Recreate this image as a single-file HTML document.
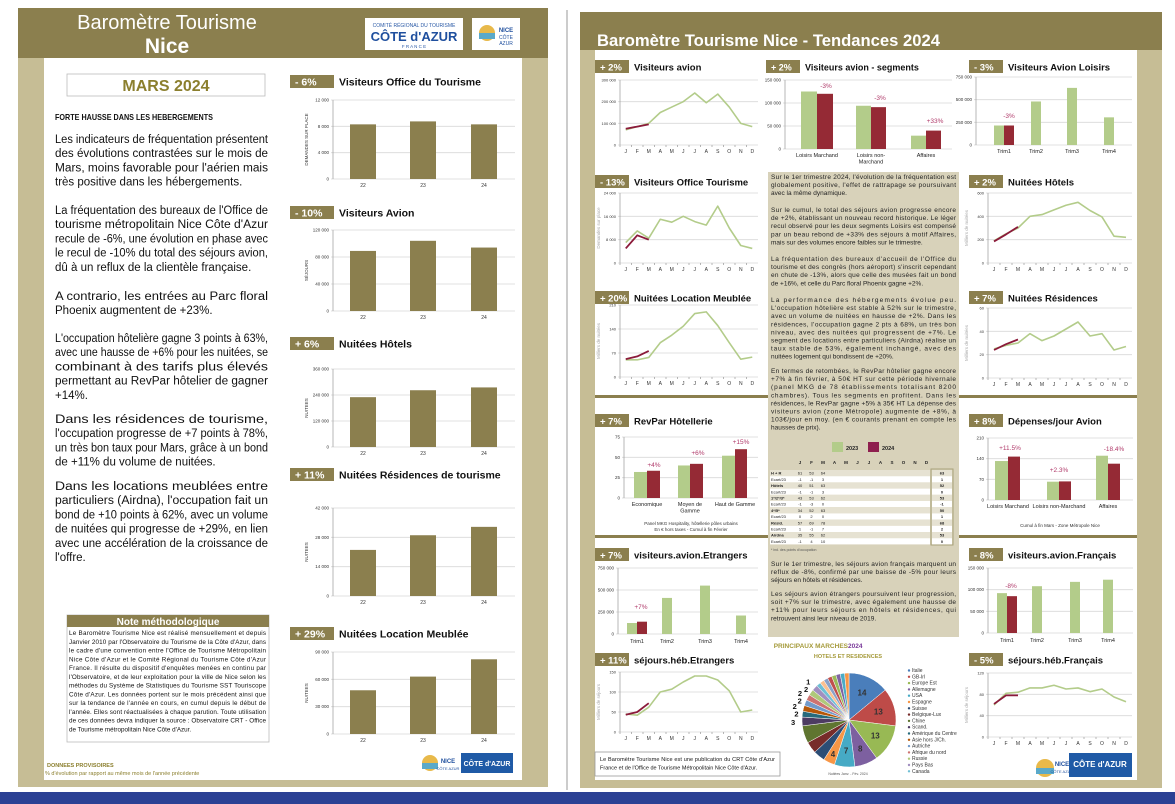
<!DOCTYPE html>
<html><head><meta charset="utf-8"><style>
html,body{margin:0;padding:0;background:#fff;}
svg{display:block;font-family:"Liberation Sans",sans-serif;}
</style></head><body>
<svg id="s" width="1175" height="804" viewBox="0 0 1175 804" xmlns="http://www.w3.org/2000/svg"></svg>
<script>
const S=document.getElementById('s');const NS='http://www.w3.org/2000/svg';
function E(t,a,txt){const e=document.createElementNS(NS,t);for(const k in a)e.setAttribute(k,a[k]);if(txt!==undefined)e.textContent=txt;S.appendChild(e);return e;}
function R(x,y,w,h,f,st){const a={x,y,width:w,height:h,fill:f};if(st){a.stroke=st;a['stroke-width']=0.8;}return E('rect',a);}
function T(x,y,s,fs,f,anc,w,len){const a={x,y,'font-size':fs,fill:f||'#222'};if(anc)a['text-anchor']=anc;if(w)a['font-weight']=w;if(len){a.textLength=len;a.lengthAdjust='spacingAndGlyphs';}return E('text',a,s);}
function Ln(x1,y1,x2,y2,c,w){return E('line',{x1,y1,x2,y2,stroke:c,'stroke-width':w||0.7});}
function PL(pts,c,w){return E('polyline',{points:pts.map(p=>p.join(',')).join(' '),fill:'none',stroke:c,'stroke-width':w,'stroke-linejoin':'round'});}
function para(x,y,w,lines,fs,lh,col,adj){lines.forEach((l,i)=>{const last=(i==lines.length-1);const a={x,y:y+i*lh,'font-size':fs,fill:col||'#111'};if(!last){a.textLength=w;a.lengthAdjust=adj||'spacing';}E('text',a,l);});}
const OL='#8b7f4e',KH='#c6bd95',GR='#b3cc8a',MR='#952a35',ML='#8b1a3a',GD='#d9d9d9';

R(0,792,1175,12,'#2b4194');
Ln(567,10,567,790,'#999',1);
R(18,8,530,779,KH);R(18,8,530,50,OL);R(44,58,478,722,'#fff');
R(580,12,582,776,KH);R(580,12,582,38,OL);R(595,50,542,730,'#fff');
T(167,29,'Baromètre Tourisme',20,'#fff','middle');
T(167,53,'Nice',21,'#fff','middle','bold');
R(365,18,98,32,'#fff');T(414,27,'COMITÉ RÉGIONAL DU TOURISME',5,'#2b5aa6','middle');T(414,41,"CÔTE d'AZUR",13,'#1f4f9e','middle','bold');T(414,48,'F R A N C E',4.5,'#2b5aa6','middle');
R(472,18,48,32,'#fff');E('circle',{cx:487,cy:33,r:8,fill:'#e8b94a'});R(479,33,16,6,'#5aa9c9');T(506,32,'NICE',6,'#1f4f9e','middle','bold');T(506,39,'CÔTE',5,'#1f4f9e','middle');T(506,45,'AZUR',5,'#1f4f9e','middle');
R(67,74,198,22,'#fff','#bbb');T(166,91,'MARS 2024',16,'#8b7f2e','middle','bold');
T(55,120,'FORTE HAUSSE DANS LES HEBERGEMENTS',8.5,'#111',null,'bold',158);
const lh=14.2,A='spacingAndGlyphs';
para(55,143,213,["Les indicateurs de fréquentation présentent","des évolutions contrastées sur le mois de","Mars, moins favorable pour l'aérien mais","très positive dans les hébergements."],11.5,lh,null,A);
para(55,214,213,["La fréquentation des bureaux de l'Office de","tourisme métropolitain Nice Côte d'Azur","recule de -6%, une évolution en phase avec","le recul de -10% du total des séjours avion,","dû à un reflux de la clientèle française."],11.5,lh,null,A);
para(55,300,213,["A contrario, les entrées au Parc floral","Phoenix augmentent de +23%."],11.5,lh,null,A);
para(55,342,213,["L'occupation hôtelière gagne 3 points à 63%,","avec une hausse de +6% pour les nuitées, se","combinant à des tarifs plus élevés","permettant au RevPar hôtelier de gagner","+14%."],11.5,lh,null,A);
para(55,423,213,["Dans les résidences de tourisme,","l'occupation progresse de +7 points à 78%,","un très bon taux pour Mars, grâce à un bond","de +11% du volume de nuitées."],11.5,lh,null,A);
para(55,490,213,["Dans les locations meublées entre","particuliers (Airdna), l'occupation fait un","bond de +10 points à 62%, avec un volume","de nuitées qui progresse de +29%, en lien","avec une accélération de la croissance de","l'offre."],11.5,lh,null,A);
R(67,615,202,127,'#fff','#bbb');R(67,615,202,12,OL);T(168,625,'Note méthodologique',10,'#fff','middle','bold');
para(69,635,197,["Le Baromètre Tourisme Nice est réalisé mensuellement  et depuis","Janvier 2010 par l'Observatoire du Tourisme de la Côte d'Azur, dans","le cadre d'une convention entre l'Office de Tourisme Métropolitain","Nice Côte d'Azur et le Comité Régional du Tourisme Côte d'Azur","France. Il résulte du dispositif d'enquêtes menées en continu par","l'Observatoire, et de leur exploitation pour la ville de Nice selon les","méthodes du Système de Statistiques du Tourisme SST Touriscope","Côte d'Azur. Les données portent sur le mois précédent ainsi que","sur la tendance de l'année en cours, en cumul depuis le début de","l'année. Elles sont réactualisées à chaque parution. Toute utilisation","de ces données devra indiquer la source : Observatoire CRT - Office","de Tourisme métropolitain Nice Côte d'Azur."],6.3,8.75);
T(47,767,'DONNEES PROVISOIRES',5.5,'#8b7f2e',null,'bold');
T(45,775,"% d'évolution par rapport au même mois de l'année précédente",5.5,'#8b7f2e');
E('circle',{cx:430,cy:763,r:8,fill:'#e8b94a'});R(422,763,16,6,'#5aa9c9');T(448,763,'NICE',6,'#1f4f9e','middle','bold');T(448,770,'CÔTE AZUR',4,'#1f4f9e','middle');
R(461,753,52,20,'#1f5aa6');T(487,766,"CÔTE d'AZUR",7,'#fff','middle','bold');

function badge(x,y,w,txt,title,fs){R(x,y,w,13,OL);T(x+5,y+10.5,txt,fs||10.5,'#fff',null,'bold');T(x+w+5,y+10.5,title,fs||10.5,'#111',null,'bold');}
function fm(t){return t.toLocaleString('fr-FR').replace(/\u202f|\u00a0/g,' ');}
function lbar(top,base,max,ticks,vals,ylab){const x0=333,x1=515;ticks.forEach(t=>{const y=base-(t/max)*(base-top);Ln(x0-2,y,x1,y,GD,0.8);T(x0-4,y+1.5,fm(t),4.5,'#333','end');});Ln(x0,top,x0,base,'#999');const xs=[350,410,471];vals.forEach((v,i)=>{const h=(v/max)*(base-top);R(xs[i],base-h,26,h,OL);T(xs[i]+13,base+8,['22','23','24'][i],5,'#333','middle');});E('text',{x:0,y:0,'font-size':4.5,fill:'#333','text-anchor':'middle',transform:`translate(${x0-25},${(top+base)/2}) rotate(-90)`},ylab);}
badge(290,75,44,'-  6%','Visiteurs Office du Tourisme');
lbar(100,179,12000,[0,4000,8000,12000],[8300,8750,8300],'DEMANDES SUR PLACE');
badge(290,206,44,'-  10%','Visiteurs Avion');
lbar(230,311,120000,[0,40000,80000,120000],[89000,104000,94000],'SÉJOURS');
badge(290,337,44,'+  6%','Nuitées Hôtels');
lbar(369,447,360000,[0,120000,240000,360000],[230000,262000,275000],'NUITEES');
badge(290,468,44,'+  11%','Nuitées Résidences de tourisme');
lbar(508,596,42000,[0,14000,28000,42000],[22000,29000,33000],'NUITEES');
badge(290,627,44,'+  29%','Nuitées Location Meublée');
lbar(652,734,90000,[0,30000,60000,90000],[48000,63000,82000],'NUITEES');

T(597,46,'Baromètre Tourisme Nice - Tendances 2024',17,'#fff',null,'bold',343);
R(768,172,191,465,'#d8d2ba');
R(595,395,173,3,OL);R(959,395,178,3,OL);R(595,535,173,3,OL);R(959,535,178,3,OL);
const M=['J','F','M','A','M','J','J','A','S','O','N','D'];
function lchart(x0,x1,top,base,max,ticks,d23,d24,ylab){ticks.forEach(t=>{const y=base-(t/max)*(base-top);Ln(x0-2,y,x1,y,GD,0.8);T(x0-4,y+1.5,fm(t),4,'#333','end');});Ln(x0,top,x0,base,'#999');const dx=(x1-x0)/12;const px=i=>x0+dx*(i+0.5);M.forEach((m,i)=>{Ln(x0+dx*i,base,x0+dx*i,base+2,'#999');T(px(i),base+8,m,5,'#333','middle');});const py=v=>base-(v/max)*(base-top);PL(d23.map((v,i)=>[px(i),py(v)]),GR,1.6);PL(d24.map((v,i)=>[px(i),py(v)]),ML,1.8);if(ylab)E('text',{x:0,y:0,'font-size':4.5,fill:'#aaa','text-anchor':'middle',transform:`translate(${x0-20},${(top+base)/2}) rotate(-90)`},ylab);}
function gbar(x0,x1,top,base,max,ticks,groups,cats,labels,cy){ticks.forEach(t=>{const y=base-(t/max)*(base-top);Ln(x0-2,y,x1,y,GD,0.8);T(x0-4,y+1.5,fm(t),4.5,'#333','end');});Ln(x0,top,x0,base,'#999');groups.forEach(g=>{const h=(g[2]/max)*(base-top);R(g[0],base-h,g[1],h,g[3]);});cats.forEach(c=>{c[2].split('|').forEach((s,j)=>T(c[0],(cy||base+8)+j*6.5,s,5.5,'#222','middle'));});labels.forEach(l=>T(l[0],l[1],l[2],6.5,'#b03a6a','middle'));}
badge(595,60,34,'+ 2%','Visiteurs avion',9.5);
lchart(620,758,80,145,300000,[0,100000,200000,300000],[70,85,100,150,175,200,240,195,235,175,100,85].map(v=>v*1000),[75,85,95].map(v=>v*1000));
badge(766,60,34,'+ 2%','Visiteurs avion - segments',9);
gbar(785,952,80,149,150000,[0,50000,100000,150000],[[801,16,125000,GR],[817,16,120000,MR],[856,15,94000,GR],[871,15,91000,MR],[911,15,29000,GR],[926,15,40000,MR]],[[817,0,'Loisirs Marchand'],[871,0,'Loisirs non-|Marchand'],[926,0,'Affaires']],[[826,88,'-3%'],[880,100,'-3%'],[935,123,'+33%']],157);
badge(969,60,34,'- 3%','Visiteurs Avion Loisirs',9.5);
gbar(976,1132,77,145,750000,[0,250000,500000,750000],[[994,10,215000,GR],[1004,10,215000,MR],[1031,10,480000,GR],[1067,10,630000,GR],[1104,10,305000,GR]],[[1004,0,'Trim1'],[1036,0,'Trim2'],[1072,0,'Trim3'],[1109,0,'Trim4']],[[1009,118,'-3%']],153);
badge(595,175,34,'- 13%','Visiteurs Office Tourisme',9.5);
lchart(620,758,193,263,24000,[0,8000,16000,24000],[7,11,8.5,15,14,16,14.2,13,19.5,12,6,5].map(v=>v*1000),[5,9.5,8].map(v=>v*1000),'Demandes sur place');
badge(969,175,34,'+ 2%','Nuitées Hôtels',9.5);
lchart(988,1132,193,263,600,[0,200,400,600],[190,250,300,400,415,455,495,520,450,395,230,220],[185,245,310],'Milliers de nuitées');
badge(595,291,34,'+ 20%','Nuitées Location Meublée',9.5);
lchart(620,758,305,377,210,[0,70,140,210],[50,50,57,100,122,148,185,190,150,100,52,58],[52,60,76],'Milliers de nuitées');
badge(969,291,34,'+ 7%','Nuitées Résidences',9.5);
lchart(988,1132,308,378,60,[0,20,40,60],[25,28,30,38,32,36,42,48,36,38,24,27],[24,29,33],'Milliers de nuitées');
badge(595,414,34,'+ 7%','RevPar Hôtellerie',9.5);
gbar(624,758,437,498,75,[0,25,50,75],[[634,13,32,GR],[647,13,33.5,MR],[678,12,40,GR],[690,13,42,MR],[722,13,52,GR],[735,12,60,MR]],[[647,0,'Economique'],[690,0,'Moyen de|Gamme'],[735,0,'Haut de Gamme']],[[654,467,'+4%'],[698,455,'+6%'],[741,444,'+15%']],506);
T(691,525,'Panel MKG Hospitality, hôtellerie pôles urbains',4.5,'#333','middle');T(691,531,'En € hors taxes - Cumul à fin Février',4.5,'#333','middle');
badge(969,414,34,'+ 8%','Dépenses/jour Avion',9.5);
gbar(988,1133,438,500,210,[0,70,140,210],[[995,13,132,GR],[1008,12,147,MR],[1047,12,62,GR],[1059,12,63,MR],[1096,12,150,GR],[1108,12,123,MR]],[[1008,0,'Loisirs Marchand'],[1059,0,'Loisirs non-Marchand'],[1108,0,'Affaires']],[[1010,450,'+11.5%'],[1059,472,'+2.3%'],[1114,451,'-18.4%']],508);
T(1060,527,'Cumul à fin Mars - Zone Métropole Nice',4.5,'#333','middle');
badge(595,548,34,'+ 7%','visiteurs.avion.Etrangers',9.5);
gbar(618,758,568,634,750000,[0,250000,500000,750000],[[627,10,125000,GR],[637,10,140000,MR],[662,10,410000,GR],[700,10,550000,GR],[736,10,210000,GR]],[[637,0,'Trim1'],[667,0,'Trim2'],[705,0,'Trim3'],[741,0,'Trim4']],[[641,609,'+7%']],643);
badge(969,548,34,'- 8%','visiteurs.avion.Français',9.5);
gbar(988,1133,568,633,150000,[0,50000,100000,150000],[[997,10,92000,GR],[1007,10,85000,MR],[1032,10,108000,GR],[1070,10,118000,GR],[1103,10,123000,GR]],[[1007,0,'Trim1'],[1037,0,'Trim2'],[1075,0,'Trim3'],[1108,0,'Trim4']],[[1011,588,'-8%']],642);
badge(595,653,34,'+ 11%','séjours.héb.Etrangers',9.5);
lchart(620,758,672,732,150,[0,50,100,150],[45,42,62,100,107,125,140,140,130,103,50,55],[43,50,72],'Milliers de séjours');
badge(969,653,34,'- 5%','séjours.héb.Français',9.5);
lchart(988,1132,673,737,120,[0,40,80,120],[60,82,84,92,92,97,90,92,85,90,75,66],[62,78,78],'Milliers de séjours');
R(595,752,185,24,'#fff','#999');para(600,761,175,["Le Baromètre Tourisme Nice est une publication du CRT Côte d'Azur","France et de l'Office de Tourisme Métropolitain Nice Côte d'Azur."],5.5,8.5);
E('circle',{cx:1045,cy:768,r:9,fill:'#e8b94a'});R(1036,768,18,6,'#5aa9c9');T(1062,766,'NICE',6,'#1f4f9e','middle','bold');T(1062,773,'CÔTE AZUR',4,'#1f4f9e','middle');
R(1069,753,63,24,'#1f5aa6');T(1100,767,"CÔTE d'AZUR",8,'#fff','middle','bold');

const mx=771,mw=185,mf=6.5,ml=8.1;
para(mx,179,mw,["Sur le 1er trimestre 2024, l'évolution de la fréquentation est","globalement positive, l'effet de rattrapage se poursuivant","avec la même dynamique."],mf,ml,'#222');
para(mx,212,mw,["Sur le cumul, le total des séjours avion progresse encore","de +2%, établissant un nouveau record historique. Le léger","recul observé pour les deux segments Loisirs est compensé","par un beau rebond de +33% des séjours à motif Affaires,","mais sur des volumes encore faibles sur le trimestre."],mf,ml,'#222');
para(mx,261,mw,["La fréquentation des bureaux d'accueil de l'Office du","tourisme et des congrès (hors aéroport) s'inscrit cependant","en chute de -13%, alors que celle des musées fait un bond","de +16%, et celle du Parc floral Phoenix gagne +2%."],mf,ml,'#222');
para(mx,302,mw,["La performance des hébergements évolue peu.","L'occupation hôtelière est stable à 52% sur le trimestre,","avec un volume de nuitées en hausse de +2%. Dans les","résidences, l'occupation gagne 2 pts à 68%, un très bon","niveau, avec des nuitées qui progressent de +7%. Le","segment des locations entre particuliers (Airdna) réalise un","taux stable de 53%, également inchangé, avec des","nuitées logement qui bondissent de +20%."],mf,ml,'#222');
para(mx,373,mw,["En termes de retombées, le RevPar hôtelier gagne encore","+7% à fin février, à 50€ HT sur cette période hivernale","(panel MKG de 78 établissements totalisant 8200","chambres). Tous les segments en profitent. Dans les","résidences, le RevPar gagne +5% à 35€ HT La dépense des","visiteurs avion (zone Métropole) augmente de +8%, à","103€/jour en moy. (en € courants prenant en compte les","hausses de prix)."],mf,ml,'#222');
para(mx,566,mw,["Sur le 1er trimestre, les séjours avion français marquent un","reflux de -8%, confirmé par une baisse de -5% pour leurs","séjours en hôtels et résidences."],mf,ml,'#222');
para(mx,596,mw,["Les séjours avion étrangers poursuivent leur progression,","soit +7% sur le trimestre, avec également une hausse de","+11% pour leurs séjours en hôtels et résidences, qui","retrouvent ainsi leur niveau de 2019."],mf,ml,'#222');
R(832,442,11,10,GR);T(846,450,'2023',5.5,'#222',null,'bold');R(868,442,11,10,'#8e1f4e');T(882,450,'2024',5.5,'#222',null,'bold');
M.forEach((m,i)=>T(800+i*11.5,464,m,4.5,'#222','middle','bold'));
const rl=['H + R','Ecart/23','Hôtels','Ecart/23','1*/2*/3*','Ecart/23','4*/5*','Ecart/23','Résid.','Ecart/23','Airdna','Ecart/23'];
const rv=[[61,53,64,63],[-1,-1,3,1],[40,51,63,52],[-1,-1,3,0],[43,53,62,53],[-1,-3,0,-1],[34,52,63,50],[0,2,0,1],[57,69,78,68],[1,-1,7,2],[35,55,62,53],[-1,4,10,0]];
rl.forEach((l,i)=>{const y=470+i*6.2;R(770,y,160,6.2,i%2?'#fff':'#e6e2d2');T(771,y+4.7,l,4,'#222',null,i%2?null:'bold');rv[i].slice(0,3).forEach((v,j)=>T(800+j*11.5,y+4.7,v,4,'#222','middle'));R(932,y,20,6.2,i%2?'#fff':'#e6e2d2');T(942,y+4.7,rv[i][3],4,'#222','middle','bold');});
E('rect',{x:931,y:469,width:22,height:76,fill:'none',stroke:'#a9a17a','stroke-width':1});
T(771,551,"* ind. des points d'occupation",3.5,'#555');
T(848,648,'PRINCIPAUX MARCHES ',6.5,'#a59a3a','end','bold');T(848,648,'2024',6.5,'#7a3a9a',null,'bold');
T(848,658,'HOTELS ET RESIDENCES',5.5,'#a59a3a','middle','bold');
const cols=['#4a7ebb','#be4b48','#98b954','#7d60a0','#46aac5','#f79646','#2c4d75','#772c2a','#5f7530','#4d3b62','#276a7c','#b65708','#729aca','#cd7371','#afc97a','#a18fc0','#6fbfd5','#fac090','#8aa2c8','#c0504d','#9bbb59','#8064a2','#4bacc6','#f79646'];
const vals=[14,13,13,8,7,4,4,4,6,3,2,2,2,2,2,2,1.5,1.5,1.5,1.5,1.5,1.5,1.5,1.5];
const outl={9:'3',10:'2',11:'2',12:'2',13:'2',14:'2',15:'1'};
const cx=849,cy=720,r=47;let a=-Math.PI/2;
vals.forEach((v,i)=>{const b=a+v/100*2*Math.PI;const x1=cx+r*Math.cos(a),y1=cy+r*Math.sin(a),x2=cx+r*Math.cos(b),y2=cy+r*Math.sin(b);E('path',{d:`M${cx},${cy} L${x1},${y1} A${r},${r} 0 ${v>50?1:0} 1 ${x2},${y2} Z`,fill:cols[i],stroke:'#fff','stroke-width':0.5});
 const m=(a+b)/2;if(i<=5){const rr=v>=7?r*0.65:r*0.8;T(cx+rr*Math.cos(m),cy+rr*Math.sin(m)+3,String(v),8,'#333','middle','bold');}
 else if(outl[i]){const rr=r+6+(i%2)*3;T(cx+rr*Math.cos(m),cy+rr*Math.sin(m)+3,outl[i],7.5,'#111','middle','bold');}
 a=b;});
T(848,775,'Nuitées Janv. - Fév. 2024',3.5,'#555','middle');
const ln=['Italie','GB-Irl','Europe Est','Allemagne','USA','Espagne','Suisse','Belgique-Lux','Chine','Scand.','Amérique du Centre','Asie hors J/Ch.','Autriche','Afrique du nord','Russie','Pays Bas','Canada'];
ln.forEach((l,i)=>{const y=672+i*6.3;E('circle',{cx:909,cy:y-1.5,r:1.2,fill:cols[i]});T(912,y,l,5,'#333');});
</script>
</body></html>
